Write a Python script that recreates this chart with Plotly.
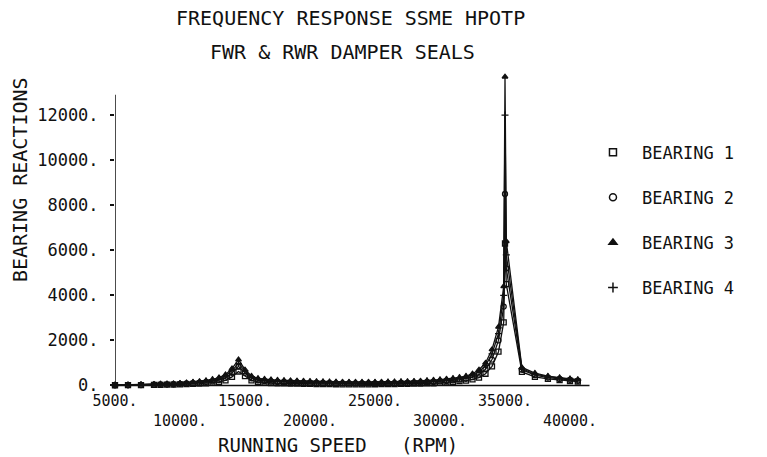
"""
=========================================================
FREQUENCY RESPONSE SSME HPOTP - BEARING REACTIONS
=========================================================
"""

import plotly.graph_objects as go

"""
=========================================================
DATA
=========================================================
"""

SPEED = [
    5000, 6000, 7000, 8000, 8500, 9000, 9500, 10000, 10500, 11000,
    11500, 12000, 12500, 13000, 13500, 14000, 14500, 15000, 15500, 16000,
    16500, 17000, 17500, 18000, 18500, 19000, 19500, 20000, 20500, 21000,
    21500, 22000, 22500, 23000, 23500, 24000, 24500, 25000, 25500, 26000,
    26500, 27000, 27500, 28000, 28500, 29000, 29500, 30000, 30500, 31000,
    31500, 32000, 32500, 33000, 33500, 34000, 34500, 34900, 35000, 35100,
    36300, 37300, 38300, 39200, 40000, 40600
]

BEARING_1 = [
    10, 15, 20, 25, 30, 35, 40, 50, 60, 70,
    85, 100, 125, 160, 230, 380, 620, 420, 230, 160,
    130, 110, 100, 90, 85, 80, 75, 70, 65, 60,
    58, 55, 52, 50, 50, 50, 52, 55, 58, 60,
    65, 70, 75, 80, 85, 90, 100, 120, 140, 160,
    190, 220, 270, 350, 520, 850, 1500, 2800, 6300, 4500,
    600, 380, 290, 240, 200, 170
]

BEARING_2 = [
    15, 20, 30, 35, 45, 50, 60, 75, 90, 100,
    125, 150, 185, 240, 340, 560, 850, 560, 320, 230,
    190, 170, 155, 145, 135, 125, 120, 115, 110, 105,
    100, 98, 95, 92, 90, 90, 92, 95, 98, 100,
    105, 110, 118, 125, 135, 145, 160, 180, 200, 230,
    260, 300, 370, 480, 720, 1150, 2000, 3500, 8500, 5200,
    700, 460, 350, 290, 250, 210
]

BEARING_3 = [
    20, 30, 40, 50, 60, 70, 80, 100, 120, 150,
    180, 220, 270, 350, 480, 750, 1150, 700, 420, 320,
    280, 260, 240, 230, 220, 210, 200, 190, 180, 170,
    165, 160, 155, 150, 150, 150, 150, 150, 155, 160,
    165, 170, 180, 190, 200, 220, 240, 260, 290, 320,
    360, 420, 520, 700, 1000, 1600, 2600, 4400, 13700, 6400,
    800, 550, 420, 350, 300, 260
]

BEARING_4 = [
    18, 25, 35, 45, 55, 60, 70, 90, 105, 130,
    160, 190, 240, 300, 420, 660, 980, 640, 380, 280,
    240, 220, 200, 190, 180, 170, 165, 160, 150, 145,
    140, 135, 130, 128, 125, 125, 128, 130, 135, 140,
    145, 150, 160, 170, 180, 195, 210, 230, 260, 290,
    330, 380, 470, 620, 880, 1400, 2300, 4000, 12000, 5800,
    750, 500, 390, 320, 280, 240
]

SERIES = [
    ("BEARING 1", BEARING_1, "square-open"),
    ("BEARING 2", BEARING_2, "circle-open"),
    ("BEARING 3", BEARING_3, "triangle-up"),
    ("BEARING 4", BEARING_4, "cross-thin-open"),
]

Y_TICKS = [0, 2000, 4000, 6000, 8000, 10000, 12000]
Y_LABELS = ["0.", "2000.", "4000.", "6000.", "8000.", "10000.", "12000."]

X_TICKS = [5000, 10000, 15000, 20000, 25000, 30000, 35000, 40000]
X_LABELS = ["5000.", "<br>10000.", "15000.", "<br>20000.",
            "25000.", "<br>30000.", "35000.", "<br>40000."]

FONT = "DejaVu Sans Mono"
INK = "#111111"

"""
=========================================================
FIGURE
=========================================================
"""

fig = go.Figure()

for name, values, symbol in SERIES:

    fig.add_trace(
        go.Scatter(
            x=SPEED,
            y=values,
            mode="lines+markers",
            line=dict(color=INK, width=1.3),
            marker=dict(symbol=symbol, size=5, color=INK,
                        line=dict(color=INK, width=1.3)),
            cliponaxis=False,
            showlegend=False
        )
    )

    # legend-only entry, marker without line
    fig.add_trace(
        go.Scatter(
            x=[None],
            y=[None],
            mode="markers",
            name=name,
            legendgroup=name,
            marker=dict(symbol=symbol, size=7, color=INK,
                        line=dict(color=INK, width=1.5))
        )
    )

"""
=========================================================
AXES
=========================================================
"""

fig.add_shape(type="line", xref="x", yref="y",
              x0=5000, x1=5000, y0=0, y1=12900,
              line=dict(color=INK, width=1.5))

fig.add_shape(type="line", xref="x", yref="y",
              x0=5000, x1=41500, y0=0, y1=0,
              line=dict(color=INK, width=1.5))

fig.update_xaxes(
    range=[5000, 42000],
    tickvals=X_TICKS,
    ticktext=X_LABELS,
    showgrid=False,
    zeroline=False,
    showline=False,
    ticks="",
    tickfont=dict(family=FONT, size=15, color=INK)
)

fig.update_yaxes(
    range=[-200, 14000],
    tickvals=Y_TICKS,
    ticktext=Y_LABELS,
    showgrid=False,
    zeroline=False,
    showline=False,
    ticks="outside",
    ticklen=4,
    tickwidth=1.5,
    tickcolor=INK,
    ticklabelstandoff=8,
    tickfont=dict(family=FONT, size=17, color=INK)
)

"""
=========================================================
TEXT
=========================================================
"""

def label(text, x, y, size, angle=0):

    fig.add_annotation(
        text=text,
        xref="paper", yref="paper",
        x=x, y=y,
        xanchor="center", yanchor="middle",
        textangle=angle,
        showarrow=False,
        font=dict(family=FONT, size=size, color=INK)
    )


label("FREQUENCY RESPONSE SSME HPOTP", 0.489, 1.1625, 20)
label("FWR & RWR DAMPER SEALS", 0.472, 1.056, 20)
label("BEARING REACTIONS", -0.1975, 0.656, 20, angle=-90)
label("RUNNING SPEED   (RPM)", 0.464, -0.172, 19)

"""
=========================================================
LAYOUT
=========================================================
"""

fig.update_layout(
    width=767,
    height=457,
    margin=dict(l=115, r=171, t=70, b=67),
    paper_bgcolor="white",
    plot_bgcolor="white",
    legend=dict(
        x=0.975,
        y=0.798,
        xanchor="left",
        yanchor="top",
        traceorder="grouped",
        tracegroupgap=20,
        font=dict(family=FONT, size=17, color=INK),
        itemwidth=48,
        bgcolor="rgba(0,0,0,0)"
    )
)

# drop the default 8px page margin so the figure sits at the window corner
fig.write_html(
    "out.html",
    config={"displayModeBar": False},
    post_script="document.body.style.margin = '0';"
)
